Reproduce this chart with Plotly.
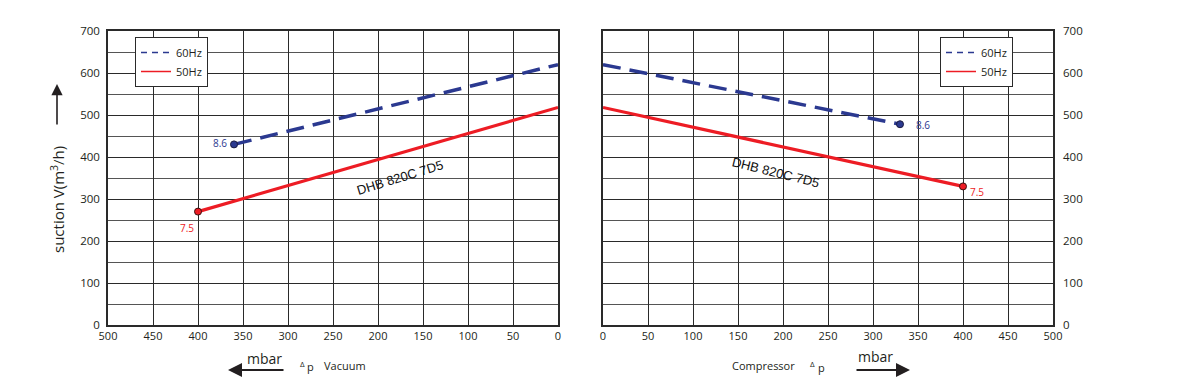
import plotly.graph_objects as go

OFF = 8  # page body margin
W, H = 1180 - OFF, 388 - OFF

# ---- data ----
vac_dp_60 = [360, 0]
vac_q_60 = [430, 620]
vac_dp_50 = [400, 0]
vac_q_50 = [270, 518]

comp_dp_60 = [0, 330]
comp_q_60 = [620, 478]
comp_dp_50 = [0, 400]
comp_q_50 = [518, 330]

label_60 = "8.6"
label_50 = "7.5"
model_name = "DHB 820C 7D5"
x_ticks = list(range(0, 501, 50))
y_ticks = list(range(0, 701, 100))

BLUE = "#2b3990"
RED = "#ed1c24"
TXT = "#231f20"
FONT = "Open Sans"

# plot region in screen (reference) pixels
L, R, T, B = 108, 1053, 31, 325


def px(x):
    return (x - L) / (R - L)


def py(y):
    return (B - y) / (B - T)


fig = go.Figure()


def add_set(xa, ya, leg, dp60, q60, dp50, q50, mark_idx):
    fig.add_trace(go.Scatter(x=dp60, y=q60, mode="lines", showlegend=False,
                             line=dict(color=BLUE, width=3.5, dash="18px,9px"),
                             xaxis=xa, yaxis=ya))
    fig.add_trace(go.Scatter(x=dp50, y=q50, mode="lines", showlegend=False,
                             line=dict(color=RED, width=3.2),
                             xaxis=xa, yaxis=ya))
    fig.add_trace(go.Scatter(x=[dp60[mark_idx]], y=[q60[mark_idx]], mode="markers", showlegend=False,
                             marker=dict(color=BLUE, size=7, line=dict(color="#1a1a40", width=1)),
                             xaxis=xa, yaxis=ya))
    fig.add_trace(go.Scatter(x=[dp50[mark_idx]], y=[q50[mark_idx]], mode="markers", showlegend=False,
                             marker=dict(color=RED, size=7, line=dict(color="#3a1010", width=1)),
                             xaxis=xa, yaxis=ya))
    # legend-only entries
    fig.add_trace(go.Scatter(x=[None], y=[None], mode="lines", name="60Hz",
                             line=dict(color=BLUE, width=1.5, dash="6px,5px"),
                             xaxis=xa, yaxis=ya, legend=leg))
    fig.add_trace(go.Scatter(x=[None], y=[None], mode="lines", name="50Hz",
                             line=dict(color=RED, width=1.5),
                             xaxis=xa, yaxis=ya, legend=leg))


add_set("x", "y", "legend", vac_dp_60, vac_q_60, vac_dp_50, vac_q_50, 0)
add_set("x2", "y2", "legend2", comp_dp_60, comp_q_60, comp_dp_50, comp_q_50, -1)

xcommon = dict(tickvals=x_ticks, ticktext=[str(v) for v in x_ticks],
               showgrid=True, gridcolor="#2a2a2a", gridwidth=1,
               showline=True, linecolor="#2a2a2a", linewidth=1.5, mirror=True,
               ticks="", zeroline=False, automargin=False,
               tickfont=dict(family=FONT, size=11, color=TXT))
ycommon = dict(range=[0, 700], tickvals=y_ticks, ticktext=[str(v) for v in y_ticks],
               showgrid=True, gridcolor="#2a2a2a", gridwidth=1,
               minor=dict(dtick=50, showgrid=True, gridcolor="#555555", gridwidth=1),
               showline=True, linecolor="#2a2a2a", linewidth=1.5, mirror=True,
               ticks="", zeroline=False, automargin=False,
               tickfont=dict(family=FONT, size=11.5, color=TXT))

legcommon = dict(xanchor="left", yanchor="top",
                 bgcolor="white", bordercolor="#2a2a2a", borderwidth=1,
                 font=dict(family=FONT, size=11, color=TXT),
                 itemwidth=30, tracegroupgap=0)

fig.update_layout(
    width=W, height=H,
    margin=dict(l=L - OFF, r=1180 - R, t=T - OFF, b=388 - B, autoexpand=False),
    paper_bgcolor="white", plot_bgcolor="white",
    font=dict(family=FONT, color=TXT),
    xaxis=dict(domain=[0, px(558)], range=[500, 0], anchor="y", **xcommon),
    yaxis=dict(domain=[0, 1], anchor="x", side="left", ticklabelstandoff=4, **ycommon),
    xaxis2=dict(domain=[px(603), 1], range=[0, 500], anchor="y2", **xcommon),
    yaxis2=dict(domain=[0, 1], anchor="x2", side="right", ticklabelstandoff=6, **ycommon),
    legend=dict(x=px(135), y=py(37), **legcommon),
    legend2=dict(x=px(940), y=py(37), **legcommon),
    showlegend=True,
)


def txt(x, y, text, size=11, color=TXT, xanchor="center", family=FONT, angle=0):
    return dict(x=px(x), y=py(y), xref="paper", yref="paper", text=text,
                showarrow=False, xanchor=xanchor, yanchor="middle", textangle=angle,
                font=dict(family=family, size=size, color=color))


def arrow(x, y, ax, ay, width):
    return dict(x=px(x), y=py(y), ax=ax, ay=ay, xref="paper", yref="paper",
                axref="pixel", ayref="pixel", text="", showarrow=True,
                arrowhead=2, arrowsize=1.4, arrowwidth=width, arrowcolor=TXT)


ann = []
# point labels
ann.append(dict(x=vac_dp_60[0], y=vac_q_60[0], xref="x", yref="y", text=label_60,
                showarrow=False, xanchor="right", yanchor="middle", xshift=-5, yshift=1,
                font=dict(family=FONT, size=10, color=BLUE)))
ann.append(dict(x=vac_dp_50[0], y=vac_q_50[0], xref="x", yref="y", text=label_50,
                showarrow=False, xanchor="right", yanchor="middle", xshift=-2, yshift=-16,
                font=dict(family=FONT, size=10, color=RED)))
ann.append(dict(x=comp_dp_60[-1], y=comp_q_60[-1], xref="x2", yref="y2", text=label_60,
                showarrow=False, xanchor="left", yanchor="middle", xshift=14, yshift=-1,
                font=dict(family=FONT, size=10, color=BLUE)))
ann.append(dict(x=comp_dp_50[-1], y=comp_q_50[-1], xref="x2", yref="y2", text=label_50,
                showarrow=False, xanchor="left", yanchor="middle", xshift=5, yshift=-6,
                font=dict(family=FONT, size=10, color=RED)))
# model names
ann.append(txt(400, 177, model_name, size=13, color="#111111", family="Liberation Sans", angle=-17))
ann.append(txt(776, 172, model_name, size=13, color="#111111", family="Liberation Sans", angle=14))
# y title
ann.append(txt(57, 200, "suction V(m<sup>3</sup>/h)", size=15, angle=-90))
# up arrow
ann.append(arrow(57, 84, 0, 42, 1.6))
# bottom left
ann.append(arrow(228, 370, 57, 0, 2))
ann.append(txt(264, 358, "mbar", size=14))
ann.append(txt(302, 363, "Δ", size=8))
ann.append(txt(310, 366, "p", size=11))
ann.append(txt(322, 365, "Vacuum", size=11, xanchor="left"))
# bottom right
ann.append(txt(797, 365, "Compressor", size=11, xanchor="right"))
ann.append(txt(812, 363, "Δ", size=8))
ann.append(txt(821, 367, "p", size=11))
ann.append(arrow(910, 370, -55, 0, 2))
ann.append(txt(875, 357, "mbar", size=14))

fig.update_layout(annotations=ann)

fig.write_html("out.html")
